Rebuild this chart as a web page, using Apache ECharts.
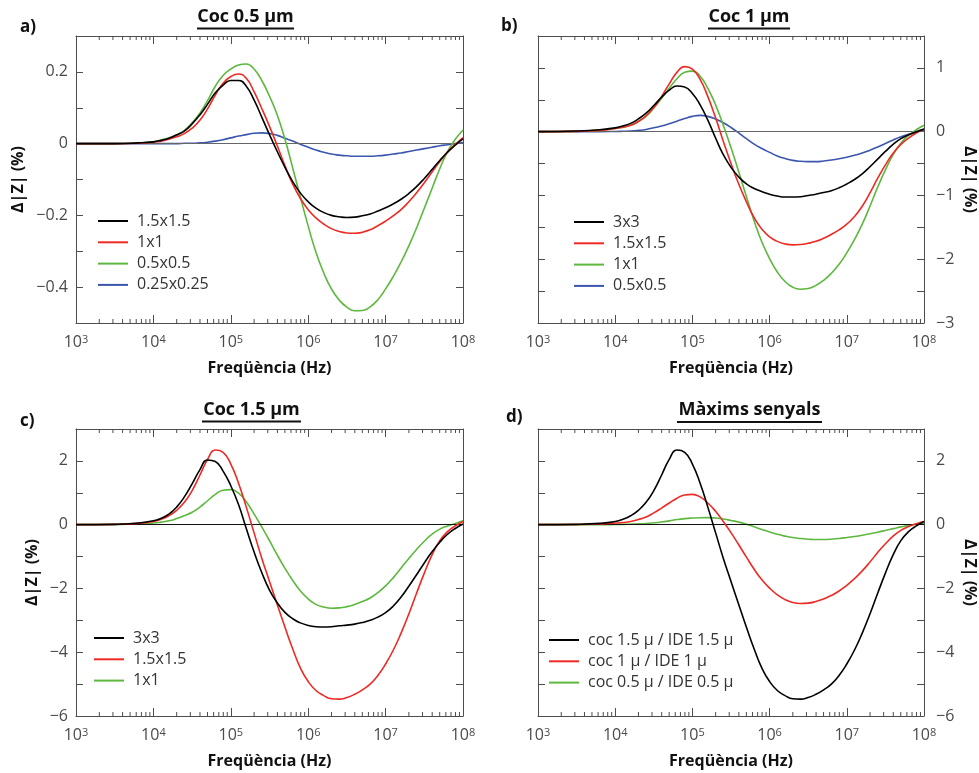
<!DOCTYPE html>
<html>
<head>
<meta charset="utf-8">
<script src="https://cdn.jsdelivr.net/npm/echarts@6/dist/echarts.min.js"></script>
<style>
  html, body { margin: 0; padding: 0; background: #fff; }
  #chart { width: 979px; height: 773px; }
</style>
</head>
<body>
<div id="chart"></div>
<script>
  // frequencies (Hz), shared by every curve
  var freq = [1000, 3162, 6310,
    10000, 12589, 15849, 19953, 25119, 31623, 39811, 50119, 63096, 79433,
    100000, 125893, 158489, 199526, 251189, 316228, 398107, 501187, 630957, 794328,
    1000000, 1258925, 1584893, 1995262, 2511886, 3162278, 3981072, 5011872, 6309573, 7943282,
    10000000, 12589254, 15848932, 19952623, 25118864, 31622777, 39810717, 50118723, 63095734, 79432823,
    100000000]

  // a) Coc 0.5 um
  var a15 = [0, 0, 0.002,
    0.005, 0.009, 0.015, 0.024, 0.035, 0.055, 0.08, 0.11, 0.142, 0.163,
    0.176, 0.176, 0.16, 0.122, 0.074, 0.025, -0.022, -0.066, -0.106, -0.138,
    -0.162, -0.18, -0.192, -0.2, -0.204, -0.206, -0.205, -0.201, -0.196, -0.188,
    -0.179, -0.168, -0.155, -0.139, -0.12, -0.097, -0.072, -0.047, -0.024, -0.004,
    0.013]
  var a1 = [0, 0, 0.001,
    0.004, 0.007, 0.012, 0.019, 0.028, 0.043, 0.065, 0.097, 0.135, 0.168,
    0.187, 0.194, 0.182, 0.145, 0.098, 0.048, -0.006, -0.062, -0.113, -0.153,
    -0.184, -0.207, -0.224, -0.237, -0.245, -0.249, -0.25, -0.247, -0.24, -0.229,
    -0.216, -0.201, -0.184, -0.162, -0.137, -0.109, -0.079, -0.05, -0.023, -0.002,
    0.017]
  var a05 = [0, 0, 0.002,
    0.005, 0.01, 0.016, 0.025, 0.037, 0.058, 0.085, 0.12, 0.16, 0.19,
    0.208, 0.219, 0.222, 0.208, 0.176, 0.132, 0.08, 0.012, -0.068, -0.15,
    -0.23, -0.303, -0.36, -0.405, -0.436, -0.456, -0.466, -0.465, -0.455, -0.435,
    -0.405, -0.37, -0.33, -0.285, -0.235, -0.18, -0.125, -0.07, -0.022, 0.012,
    0.038]
  var a025 = [0, 0, 0,
    0, 0, 0, 0, 0.001, 0.001, 0.002, 0.004, 0.007, 0.011,
    0.016, 0.021, 0.025, 0.029, 0.03, 0.028, 0.023, 0.015, 0.007, -0.002,
    -0.01, -0.018, -0.024, -0.029, -0.032, -0.034, -0.035, -0.035, -0.035, -0.034,
    -0.032, -0.029, -0.026, -0.022, -0.018, -0.014, -0.01, -0.006, -0.003, 0,
    0.003]

  // b) Coc 1 um
  var b3 = [0, 0.01, 0.03,
    0.06, 0.09, 0.13, 0.2, 0.29, 0.41, 0.54, 0.65, 0.715, 0.7,
    0.6, 0.42, 0.18, -0.1, -0.36, -0.56, -0.71, -0.82, -0.89, -0.94,
    -0.98, -1.01, -1.025, -1.025, -1.02, -1.0, -0.98, -0.955, -0.925, -0.88,
    -0.82, -0.75, -0.66, -0.55, -0.43, -0.31, -0.2, -0.11, -0.05, 0,
    0.04]
  var b15 = [0, 0.005, 0.02,
    0.05, 0.07, 0.1, 0.16, 0.25, 0.38, 0.55, 0.75, 0.93, 1.02,
    0.98, 0.82, 0.55, 0.22, -0.15, -0.5, -0.82, -1.1, -1.35, -1.53,
    -1.65, -1.72, -1.76, -1.775, -1.77, -1.75, -1.72, -1.67, -1.61, -1.54,
    -1.45, -1.33, -1.17, -0.96, -0.73, -0.52, -0.34, -0.2, -0.1, -0.02,
    0.04]
  var b1 = [0, 0.005, 0.02,
    0.05, 0.07, 0.1, 0.16, 0.24, 0.37, 0.52, 0.68, 0.83, 0.93,
    0.95, 0.87, 0.68, 0.42, 0.1, -0.25, -0.63, -1.02, -1.4, -1.73,
    -1.99, -2.2, -2.35, -2.44, -2.47, -2.46, -2.41, -2.33, -2.22, -2.08,
    -1.9, -1.69, -1.45, -1.17, -0.87, -0.6, -0.36, -0.18, -0.06, 0.03,
    0.1]
  var b05 = [0, 0, 0,
    0.003, 0.006, 0.01, 0.02, 0.035, 0.06, 0.09, 0.125, 0.165, 0.205,
    0.24, 0.255, 0.24, 0.2, 0.14, 0.065, -0.02, -0.11, -0.195, -0.265,
    -0.325, -0.38, -0.42, -0.45, -0.465, -0.47, -0.47, -0.46, -0.445, -0.425,
    -0.4, -0.37, -0.335, -0.29, -0.24, -0.185, -0.13, -0.08, -0.04, -0.01,
    0.03]

  // c) Coc 1.5 um
  var c3 = [0, 0.01, 0.05,
    0.12, 0.2, 0.33, 0.55, 0.87, 1.28, 1.72, 2.03, 1.98, 1.68,
    1.22, 0.63, -0.12, -0.85, -1.5, -2.05, -2.45, -2.75, -2.95, -3.08,
    -3.16, -3.2, -3.21, -3.2, -3.17, -3.15, -3.12, -3.07, -3.0, -2.9,
    -2.76, -2.55, -2.27, -1.93, -1.57, -1.2, -0.85, -0.55, -0.3, -0.12,
    0.02]
  var c15 = [0, 0.01, 0.04,
    0.1, 0.17, 0.28, 0.45, 0.7, 1.07, 1.55, 2.05, 2.34, 2.27,
    1.9, 1.3, 0.55, -0.25, -1.05, -1.78, -2.5, -3.22, -3.9, -4.5,
    -4.92, -5.2, -5.36, -5.46, -5.47, -5.42, -5.32, -5.18, -5.0, -4.73,
    -4.37, -3.93, -3.4, -2.8, -2.15, -1.52, -0.95, -0.5, -0.22, -0.04,
    0.1]
  var c1 = [0, 0.005, 0.02,
    0.05, 0.08, 0.12, 0.19, 0.28, 0.39, 0.55, 0.75, 0.95, 1.08,
    1.1, 0.99, 0.72, 0.34, -0.07, -0.5, -0.95, -1.37, -1.75, -2.08,
    -2.33, -2.5, -2.58, -2.62, -2.61, -2.57, -2.5, -2.41, -2.3, -2.13,
    -1.92, -1.66, -1.36, -1.06, -0.78, -0.52, -0.3, -0.14, -0.04, 0.04,
    0.12]

  // d) Maxims senyals (best sensor for each cell size)
  var d15 = c15
  var d1 = b1
  var d05 = a05

  var xTickLabels = ['3', '4', '5', '6', '7', '8']
  var minorMult = [2, 3, 4, 5, 6, 7, 8, 9]
  var decades = [1e3, 1e4, 1e5, 1e6, 1e7]

  var FONT = 'Open Sans'
  var AX = '#4d4d4d'
  var BLACK = '#000000'
  var RED = '#ee2a24'
  var GREEN = '#5db83e'
  var BLUE = '#3a56ad'

  var minorData = []
  decades.forEach(function (d) {
    minorMult.forEach(function (m) { minorData.push([d * m, 0]) })
  })

  function pairs(ys) {
    return freq.map(function (f, i) { return [f, ys[i]] })
  }

  function yFormatter(step) {
    return function (v) {
      var k = Math.round(v / step)
      if (k % 2 !== 0) return ''
      var r = Math.round(v * 100) / 100
      if (r === 0) return '0'
      return r < 0 ? '\u2212' + String(-r) : String(r)
    }
  }

  var grids = [
    { left: 76, top: 36, width: 387, height: 287 },
    { left: 538, top: 36, width: 387, height: 287 },
    { left: 76, top: 429, width: 387, height: 287 },
    { left: 538, top: 429, width: 387, height: 287 }
  ]

  var panels = [
    { min: -0.5, max: 0.3, step: 0.1, side: 'left', nameGap: 50, zero: '#666',
      legend: { left: 98, top: 213 },
      series: [['1.5x1.5', a15, BLACK], ['1x1', a1, RED], ['0.5x0.5', a05, GREEN], ['0.25x0.25', a025, BLUE]] },
    { min: -3, max: 1.5, step: 0.5, side: 'right', nameGap: 38, zero: '#666',
      legend: { left: 574, top: 214 },
      series: [['3x3', b3, BLACK], ['1.5x1.5', b15, RED], ['1x1', b1, GREEN], ['0.5x0.5', b05, BLUE]] },
    { min: -6, max: 3, step: 1, side: 'left', nameGap: 36, zero: '#111',
      legend: { left: 94, top: 630 },
      series: [['3x3', c3, BLACK], ['1.5x1.5', c15, RED], ['1x1', c1, GREEN]] },
    { min: -6, max: 3, step: 1, side: 'right', nameGap: 38, zero: '#111',
      legend: { left: 549, top: 632 },
      series: [['coc 1.5 \u03bc / IDE 1.5 \u03bc', d15, BLACK], ['coc 1 \u03bc / IDE 1 \u03bc', d1, RED], ['coc 0.5 \u03bc / IDE 0.5 \u03bc', d05, GREEN]] }
  ]

  var xAxis = [], yAxis = [], series = [], legend = []

  panels.forEach(function (p, gi) {
    var base = {
      type: 'log', logBase: 10, min: 1000, max: 100000000, gridIndex: gi,
      axisLine: { onZero: false, lineStyle: { color: AX, width: 1 } },
      axisTick: { inside: true, length: 8, lineStyle: { color: AX } },
      splitLine: { show: false }
    }
    xAxis.push(Object.assign({}, base, {
      position: 'bottom',
      name: 'Freq\u00fc\u00e8ncia (Hz)', nameLocation: 'middle', nameGap: 37,
      nameTextStyle: { fontFamily: FONT, fontSize: 16, fontWeight: 'bold', color: '#111' },
      axisLabel: {
        margin: 11, fontFamily: FONT, fontSize: 16, color: '#4a4a4a',
        formatter: function (v) {
          return '10{sup|' + xTickLabels[Math.round(Math.log10(v)) - 3] + '}'
        },
        rich: { sup: { fontSize: 11, verticalAlign: 'top', color: '#4a4a4a', fontFamily: FONT } }
      }
    }))
    xAxis.push(Object.assign({}, base, { position: 'top', axisLabel: { show: false } }))

    var yBase = {
      type: 'value', gridIndex: gi, min: p.min, max: p.max, interval: p.step,
      axisLine: { show: true, onZero: false, lineStyle: { color: AX, width: 1 } },
      axisTick: { show: true, inside: true, length: 7, lineStyle: { color: AX } },
      splitLine: { show: false }
    }
    yAxis.push(Object.assign({}, yBase, {
      position: p.side,
      name: '\u0394|Z| (%)', nameLocation: 'middle', nameGap: p.nameGap,
      nameRotate: p.side === 'left' ? 90 : -90,
      nameTextStyle: { fontFamily: FONT, fontSize: 16, fontWeight: 'bold', color: '#111' },
      axisLabel: {
        margin: p.side === 'left' ? 8 : 12, fontFamily: FONT, fontSize: 16, color: '#4a4a4a',
        formatter: yFormatter(p.step)
      }
    }))
    yAxis.push(Object.assign({}, yBase, {
      position: p.side === 'left' ? 'right' : 'left', axisLabel: { show: false }
    }))

    var names = []
    p.series.forEach(function (s, si) {
      var id = gi + ':' + s[0]
      names.push(id)
      var item = {
        name: id, type: 'line', xAxisIndex: gi * 2, yAxisIndex: gi * 2,
        data: pairs(s[1]), smooth: 0.5,
        symbol: 'none', color: s[2],
        lineStyle: { color: s[2], width: 1.6 },
        z: 3 + (p.series.length - si)
      }
      if (si === 0) {
        item.markLine = {
          silent: true, symbol: 'none', animation: false,
          label: { show: false },
          lineStyle: { color: p.zero, width: 1, type: 'solid' },
          data: [{ yAxis: 0 }]
        }
      }
      series.push(item)
    })

    series.push({
      type: 'custom', xAxisIndex: gi * 2, yAxisIndex: gi * 2, silent: true,
      clip: false, data: minorData,
      renderItem: function (params, api) {
        var cs = params.coordSys
        var x = api.coord([api.value(0), api.value(1)])[0]
        var yb = cs.y + cs.height
        return {
          type: 'group',
          children: [
            { type: 'line', shape: { x1: x, y1: yb, x2: x, y2: yb - 4 }, style: { stroke: AX, lineWidth: 1 } },
            { type: 'line', shape: { x1: x, y1: cs.y, x2: x, y2: cs.y + 4 }, style: { stroke: AX, lineWidth: 1 } }
          ]
        }
      }
    })

    legend.push({
      data: names, orient: 'vertical', left: p.legend.left, top: p.legend.top,
      padding: 0, icon: 'rect', itemWidth: 30, itemHeight: 2, itemGap: 5.3,
      selectedMode: false,
      formatter: function (n) { return n.slice(n.indexOf(':') + 1) },
      textStyle: { fontFamily: FONT, fontSize: 16, lineHeight: 16, color: '#333', padding: [0, 0, 0, 4] }
    })
  })

  function title(text, cx, cy, x1, x2, uy) {
    return [
      { type: 'text', x: cx, y: cy, style: { text: text, align: 'center', verticalAlign: 'middle',
        font: 'bold 18px "' + FONT + '"', fill: '#111' } },
      { type: 'line', shape: { x1: x1, y1: uy, x2: x2, y2: uy }, style: { stroke: '#111', lineWidth: 2 } }
    ]
  }
  function letter(text, x, y) {
    return { type: 'text', x: x, y: y, style: { text: text, align: 'left', verticalAlign: 'middle',
      font: 'bold 17px "' + FONT + '"', fill: '#111' } }
  }

  var graphic = [].concat(
    title('Coc 0.5 \u00b5m', 245.5, 17, 197, 294, 28.5),
    title('Coc 1 \u00b5m', 749, 17, 708, 790, 28.5),
    title('Coc 1.5 \u00b5m', 251.5, 410, 202, 301, 421.5),
    title('M\u00e0xims senyals', 749.5, 410, 677, 822, 422),
    [letter('a)', 20, 27), letter('b)', 501, 26), letter('c)', 20, 421), letter('d)', 506, 417)]
  )

  var chart = echarts.init(document.getElementById('chart'), null, { renderer: 'canvas' })
  chart.setOption({
    backgroundColor: '#fff',
    animation: false,
    grid: grids,
    xAxis: xAxis,
    yAxis: yAxis,
    legend: legend,
    series: series,
    graphic: graphic
  })
</script>
</body>
</html>
